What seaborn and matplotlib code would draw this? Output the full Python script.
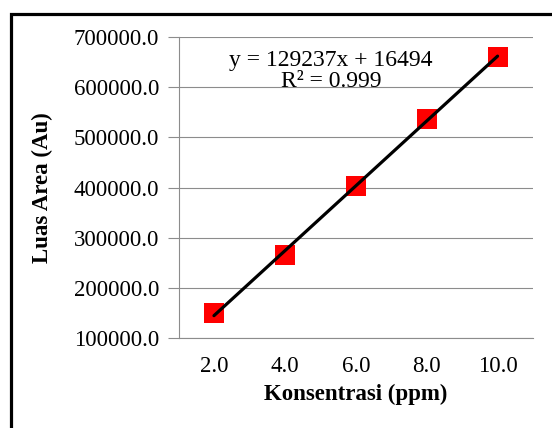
import numpy as np
import pandas as pd
import seaborn as sns
from matplotlib import pyplot as plt
from matplotlib.patches import Rectangle

# calibration data
konsentrasi = [2.0, 4.0, 6.0, 8.0, 10.0]
luas_area = [149000, 265000, 404000, 537000, 661000]
y_ticks = [100000, 200000, 300000, 400000, 500000, 600000, 700000]
equation = "y = 129237x + 16494"
r_squared = "R² = 0.999"

df = pd.DataFrame({"Konsentrasi": konsentrasi, "Luas": luas_area})

sns.set_style("white")
plt.rcParams['font.family'] = ['Liberation Serif', 'DejaVu Serif']
plt.rcParams['text.color'] = 'black'
plt.rcParams['axes.labelcolor'] = 'black'
plt.rcParams['xtick.color'] = 'black'
plt.rcParams['ytick.color'] = 'black'

fig = plt.figure(figsize=(5.52, 4.28), dpi=100)
ax = fig.add_axes([0.3234, 0.211, 0.6422, 0.7018])

grid_color = "#8c8c8c"

# red square markers plus black linear trendline
sns.regplot(data=df, x="Konsentrasi", y="Luas", ax=ax, ci=None, truncate=True,
            marker="s",
            scatter_kws={"s": 190, "color": "#FF0000", "linewidths": 0, "alpha": 1, "zorder": 3},
            line_kws={"color": "black", "lw": 2.3, "zorder": 4})

ax.set_xlim(1, 11)
ax.set_ylim(100000, 700000)
ax.set_xticks(konsentrasi)
ax.set_xticklabels([f"{v:.1f}" for v in konsentrasi])
ax.set_yticks(y_ticks)
ax.set_yticklabels([f"{v:.1f}" for v in y_ticks])

ax.yaxis.grid(True, color=grid_color, lw=0.8)
ax.set_axisbelow(True)
for side in ["top", "right"]:
    ax.spines[side].set_visible(False)
for side in ["left", "bottom"]:
    ax.spines[side].set_color(grid_color)
    ax.spines[side].set_linewidth(0.8)

ax.tick_params(axis="y", direction="out", length=8, width=0.8, color=grid_color,
               pad=6, labelsize=16.5, left=True)
ax.tick_params(axis="x", length=0, pad=13, labelsize=16.5)

ax.set_xlabel("Konsentrasi (ppm)", fontsize=16.5, fontweight="bold", labelpad=5)
ax.set_ylabel("Luas Area (Au)", fontsize=16.5, fontweight="bold", labelpad=15)

ax.text(0.43, 0.922, equation, transform=ax.transAxes, ha="center", va="center", fontsize=17)
ax.text(0.43, 0.852, r_squared, transform=ax.transAxes, ha="center", va="center", fontsize=17)

# outer chart frame
fig.patches.append(Rectangle((11 / 552, -0.1), 1.2, 1 - 14 / 428 + 0.1,
                             transform=fig.transFigure, fill=False,
                             edgecolor="black", lw=2.3))

fig.savefig("out.png", dpi=100)
